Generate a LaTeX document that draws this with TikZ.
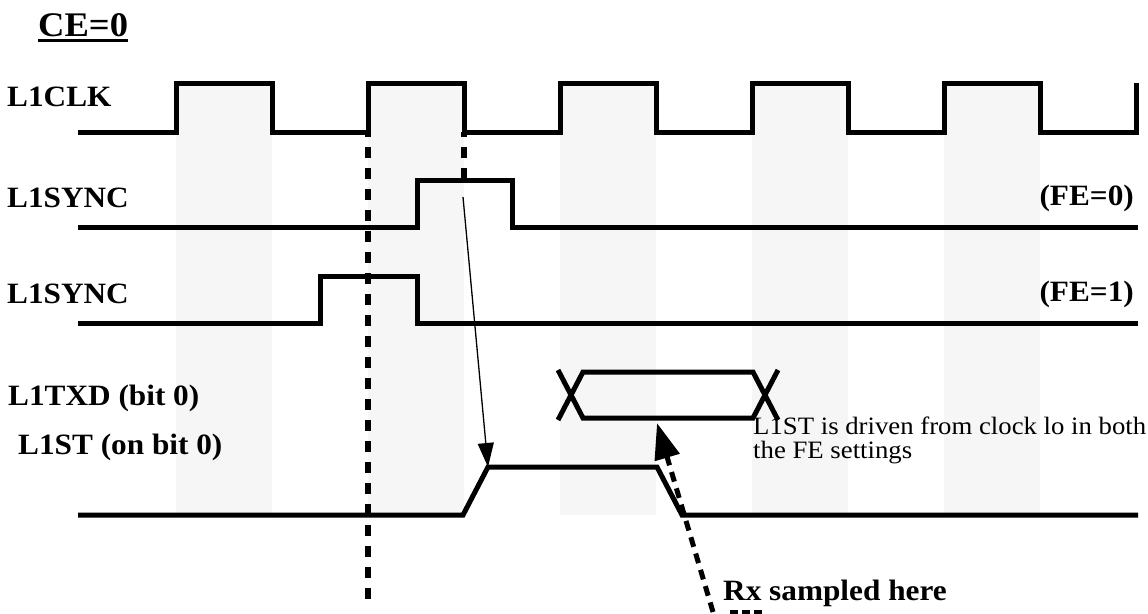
\documentclass[tikz,border=0pt]{standalone}
\usepackage{fontspec}
\usepackage{graphicx}
\setmainfont{Liberation Serif}
\usetikzlibrary{arrows.meta}
\definecolor{bandgray}{RGB}{246,246,246}
\newcommand\wideTxt[2]{\scalebox{#1}[1]{#2}}
\begin{document}
\begin{tikzpicture}[x=1pt,y=-1pt,
  sig/.style={line width=5pt, line join=miter, line cap=butt},
  vdash/.style={line width=5.3pt, dash pattern=on 11pt off 10pt, dash phase=6pt},
  lbl/.style={inner sep=0pt, anchor=base west, font=\fontsize{29.5}{32}\selectfont\bfseries},
  lblr/.style={inner sep=0pt, anchor=base east, font=\fontsize{29.5}{32}\selectfont\bfseries},
  note/.style={inner sep=0pt, anchor=base west, font=\fontsize{25}{24.5}\selectfont},
  band/.style={fill=bandgray, draw=none}]
\useasboundingbox (0,0) rectangle (1148,613);
% shaded clock-high bands
\foreach \xa in {176,368,560,752,944}
  \path[band] (\xa,83) rectangle ({\xa+96},515);
% title
\node[lbl, font=\fontsize{34.5}{38}\selectfont\bfseries] (ce) at (38,36) {\wideTxt{1.06}{CE=0}};
\draw[line width=2.8pt] ([yshift=-4.5pt]ce.base west) -- ([yshift=-4.5pt]ce.base east);
% labels
\node[lbl] (lclk) at (7,106) {\wideTxt{1.06}{L1CLK}};
\node[lbl] (lsync0) at (7,207) {\wideTxt{1.06}{L1SYNC}};
\node[lbl] (lsync1) at (7,303) {\wideTxt{1.06}{L1SYNC}};
\node[lbl] (ltxd) at (8,405) {\wideTxt{1.06}{L1TXD (bit 0)}};
\node[lbl] (lst) at (18,454) {\wideTxt{1.06}{L1ST (on bit 0)}};
\node[lblr] (fe0) at (1134,205) {\wideTxt{1.06}{(FE=0)}};
\node[lblr] (fe1) at (1134,301) {\wideTxt{1.06}{(FE=1)}};
% clock
\draw[sig] (78,132) -- (176,132) -- (176,83) -- (272,83) -- (272,132)
  -- (368,132) -- (368,83) -- (464,83) -- (464,132)
  -- (560,132) -- (560,83) -- (656,83) -- (656,132)
  -- (752,132) -- (752,83) -- (848,83) -- (848,132)
  -- (944,132) -- (944,83) -- (1040,83) -- (1040,132)
  -- (1136,132) -- (1136,83);
% L1SYNC FE=0
\draw[sig] (78,227) -- (417,227) -- (417,180) -- (512,180) -- (512,227) -- (1138,227);
% L1SYNC FE=1
\draw[sig] (78,323) -- (320,323) -- (320,276) -- (417,276) -- (417,323) -- (1138,323);
% L1TXD
\draw[sig] (558,370) -- (583,418) -- (753,418) -- (778,370);
\draw[sig] (558,420) -- (583,372) -- (753,372) -- (778,420);
% L1ST
\coordinate (strise) at (488,467);
\coordinate (stfall) at (657,467);
\draw[sig] (78,515) -- (463,515) -- (strise) -- (stfall) -- (682,515) -- (1138,515);
% vertical dashed markers
\draw[vdash] (368,132) -- (368,603);
\draw[vdash] (464,132) -- (464,180);
% thin arrow
\coordinate (thinstart) at (463,197);
\draw[line width=1.3pt, -{Triangle[length=24pt,width=16pt]}] (thinstart) -- (strise);
% dashed sample arrow
\coordinate (samplefoot) at (713,612);
\coordinate (sampletip) at (657,423);
\draw[line width=5pt, dash pattern=on 10pt off 7pt, -{Triangle[length=36pt,width=25pt]}] (samplefoot) -- (sampletip);
% texts
\node[note] (drv) at (753,434) {\wideTxt{1.07}{\begin{tabular}[t]{@{}l@{}}L1ST is driven from clock lo in both\\the FE settings\end{tabular}}};
\node[lbl] (rx) at (723,600) {\wideTxt{1.06}{Rx sampled here}};
\draw[line width=4pt, dash pattern=on 8pt off 4pt] (730,611.5) -- (765,611.5);
\end{tikzpicture}
\end{document}
